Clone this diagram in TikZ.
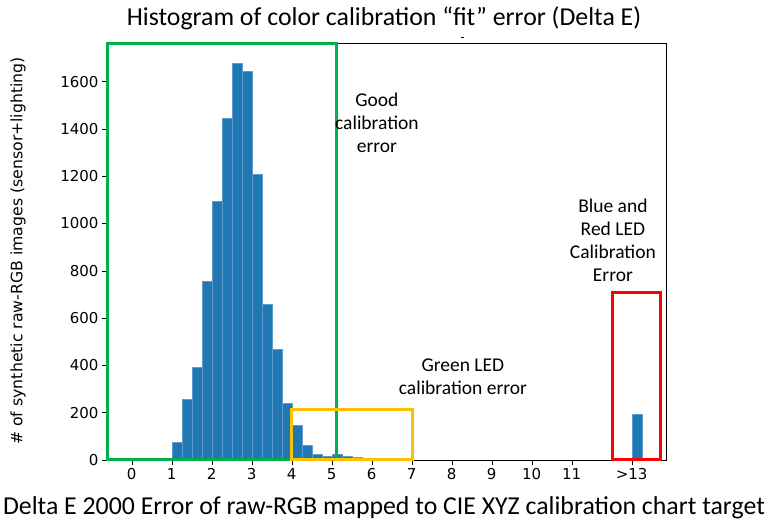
\documentclass[tikz,border=0pt]{standalone}
\usepackage{fontspec}
\setmainfont{Carlito}
\newfontfamily\mplfont{DejaVu Sans}
\definecolor{barblue}{HTML}{1F77B4}
\definecolor{baredge}{HTML}{5E9DCC}
\definecolor{goodgreen}{HTML}{00B050}
\definecolor{ledyellow}{HTML}{FFC000}
\definecolor{ledred}{HTML}{FF0000}
\begin{document}
\begin{tikzpicture}[x=1pt,y=1pt,
    bar/.style={fill=barblue,draw=baredge,line width=0.4pt},
    regionbox/.style={line width=3pt},
    ticklabel/.style={font=\mplfont\fontsize{15}{18}\selectfont},
    note/.style={align=center,font=\fontsize{19.5}{23}\selectfont}]
\useasboundingbox (0,0) rectangle (768,527);
\fill[white] (0,0) rectangle (768,527);
\node (title) at (384,509) {\fontsize{25.8}{30}\selectfont Histogram of color calibration “fit” error (Delta E)};
\node (xlabel) at (384,19) {\fontsize{25.8}{30}\selectfont Delta E 2000 Error of raw-RGB mapped to CIE XYZ calibration chart target};
\node[rotate=90,ticklabel,font=\mplfont\fontsize{15.7}{18}\selectfont] (ylabel) at (18,276) {\# of synthetic raw-RGB images (sensor+lighting)};
\draw (460.5,489.7) -- (464,489.7);
\begin{scope}[shift={(131.7,67)},x=40pt,y=0.2365pt]
    \coordinate (sw) at (-0.6175,0);
    \coordinate (ne) at (13.36,1763);
    \foreach \lo/\h in {1.00/75,1.25/257,1.50/392,1.75/758,2.00/1094,2.25/1447,
        2.50/1677,2.75/1645,3.00/1208,3.25/658,3.50/468,3.75/242,4.00/148,
        4.25/63,4.50/24,4.75/14,5.00/25,5.25/18,5.50/10,5.75/5,6.00/5,6.25/4}
        \draw[bar] (\lo,0) rectangle ++(0.25,\h);
    \draw[bar] (12.5,0) rectangle ++(0.25,193);
    \draw[line width=0.8pt] (sw) rectangle (ne);
    \foreach \v in {0,...,11}
        \draw (\v,0) -- ++(0,-5pt) node[below,ticklabel] (x\v) {\v};
    \draw (12.5,0) -- ++(0,-5pt) node[below,ticklabel] (x13) {>13};
    \foreach \c in {0,200,...,1600}
        \draw (-0.6175,\c) -- ++(-5pt,0) node[left,ticklabel] (y\c) {\c};
    \draw[regionbox,goodgreen] (sw) rectangle (5.11,1763);
    \draw[regionbox,ledyellow] (4,0) rectangle (7.015,214);
    \draw[regionbox,ledred] (12.015,0) rectangle (13.23,707);
    \node[note] (good) at (6.13,1425) {Good\\calibration\\error};
    \node[note] (green) at (8.28,351) {Green LED\\calibration error};
    \node[note] (bluered) at (12.03,928) {Blue and\\Red LED\\Calibration\\Error};
\end{scope}
\end{tikzpicture}
\end{document}
